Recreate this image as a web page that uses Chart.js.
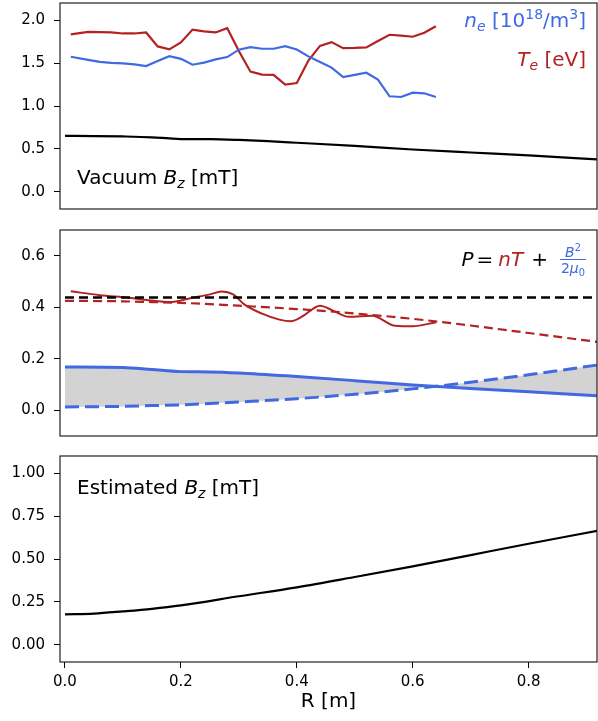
<!DOCTYPE html>
<html lang="en">
<head>
<meta charset="UTF-8" />
<title>Radial profiles</title>
<script src="https://cdn.jsdelivr.net/npm/chart.js"></script>
<style>
  body { margin: 0; background: #fff; }
  #wrap { position: relative; width: 598px; height: 721px; }
  #wrap canvas { position: absolute; left: 0; }
</style>
</head>
<body>
<div id="wrap">
  <canvas id="vacuumChart" width="598" height="212" style="top:0px"></canvas>
  <canvas id="pressureChart" width="598" height="220" style="top:220px"></canvas>
  <canvas id="fieldChart" width="598" height="281" style="top:440px"></canvas>
</div>

<script>
// --- measured profiles (R in m) ---
const rProfile = [0.01, 0.04, 0.06, 0.08, 0.10, 0.12, 0.14, 0.16, 0.18, 0.20, 0.22, 0.24, 0.26, 0.28, 0.30, 0.32,
                  0.34, 0.36, 0.38, 0.40, 0.42, 0.44, 0.46, 0.48, 0.50, 0.52, 0.54, 0.56, 0.58, 0.60, 0.62, 0.64];
const neProfile = [1.574, 1.537, 1.514, 1.502, 1.497, 1.485, 1.465, 1.523, 1.581, 1.549, 1.481, 1.505, 1.543, 1.570, 1.656, 1.686,
                   1.667, 1.667, 1.698, 1.659, 1.578, 1.514, 1.447, 1.337, 1.363, 1.388, 1.307, 1.113, 1.105, 1.156, 1.148, 1.105];
const teProfile = [1.834, 1.863, 1.860, 1.857, 1.845, 1.845, 1.857, 1.694, 1.660, 1.740, 1.890, 1.870, 1.857, 1.907, 1.640, 1.400,
                   1.365, 1.363, 1.249, 1.267, 1.530, 1.700, 1.744, 1.674, 1.677, 1.683, 1.758, 1.830, 1.820, 1.807, 1.853, 1.930];

// vacuum field
const rVacuum = [0, 0.05, 0.10, 0.15, 0.18, 0.20, 0.25, 0.30, 0.35, 0.40, 0.50, 0.60, 0.70, 0.80, 0.92];
const bzVacuum = [0.651, 0.650, 0.645, 0.635, 0.622, 0.615, 0.614, 0.605, 0.590, 0.572, 0.535, 0.493, 0.458, 0.425, 0.377];

// pressure balance
const rKinetic = [0.01, 0.06, 0.11, 0.15, 0.18, 0.22, 0.25, 0.27, 0.29, 0.31, 0.34, 0.37, 0.39, 0.41, 0.44, 0.46, 0.49, 0.53, 0.57, 0.60, 0.64];
const pKinetic = [0.462, 0.447, 0.437, 0.426, 0.420, 0.437, 0.450, 0.461, 0.450, 0.410, 0.375, 0.352, 0.346, 0.365, 0.406, 0.390, 0.363, 0.367, 0.328, 0.326, 0.342];
const rPressure = [0, 0.10, 0.15, 0.20, 0.25, 0.30, 0.40, 0.50, 0.60, 0.70, 0.80, 0.92];
const pKineticFit = [0.425, 0.423, 0.420, 0.417, 0.412, 0.406, 0.393, 0.376, 0.355, 0.329, 0.300, 0.265];
const pMagVacuum = [0.168, 0.166, 0.158, 0.150, 0.149, 0.145, 0.131, 0.115, 0.098, 0.084, 0.072, 0.056];
const pMagEstimated = [0.013, 0.015, 0.018, 0.021, 0.026, 0.032, 0.045, 0.062, 0.083, 0.109, 0.138, 0.176];
const rTotal = [0, 0.92];
const pTotal = [0.438, 0.438];

// estimated field
const rEstimated = [0, 0.05, 0.10, 0.15, 0.20, 0.30, 0.40, 0.50, 0.60, 0.70, 0.80, 0.92];
const bzEstimated = [0.178, 0.182, 0.195, 0.210, 0.230, 0.283, 0.335, 0.395, 0.457, 0.523, 0.589, 0.665];

// tick labels
const xTicks = [0, 0.2, 0.4, 0.6, 0.8];
const yTicksVacuum = [0, 0.5, 1.0, 1.5, 2.0];
const yTicksPressure = [0, 0.2, 0.4, 0.6];
const yTicksField = [0, 0.25, 0.5, 0.75, 1.0];

const FONT = '"DejaVu Sans", sans-serif';
const BLUE = '#4169e1';
const RED = '#b22222';

const pts = (xs, ys) => xs.map((x, i) => ({ x, y: ys[i] }));

function xScale(show) {
  return {
    type: 'linear', min: -0.0086, max: 0.918, display: show,
    afterBuildTicks: s => { s.ticks = xTicks.map(v => ({ value: v })); },
    afterFit: s => { if (show) s.height = 59; s.paddingLeft = 0; s.paddingRight = 0; },
    grid: { drawOnChartArea: false, drawTicks: true, tickLength: 6, color: '#000', tickWidth: 1 },
    border: { display: false },
    ticks: { color: '#000', font: { family: FONT, size: 15 }, padding: 5, maxRotation: 0, autoSkip: false,
             callback: v => v.toFixed(1) },
    title: { display: true, text: 'R [m]', color: '#000', font: { family: FONT, size: 20 }, padding: { top: 0, bottom: 7 } }
  };
}

function yScale(min, max, ticks, digits) {
  return {
    min, max,
    afterBuildTicks: s => { s.ticks = ticks.map(v => ({ value: v })); },
    afterFit: s => { s.width = 60; s.paddingTop = 0; s.paddingBottom = 0; },
    grid: { drawOnChartArea: false, drawTicks: true, tickLength: 6, color: '#000', tickWidth: 1 },
    border: { display: false },
    ticks: { color: '#000', font: { family: FONT, size: 15 }, padding: 9, autoSkip: false,
             callback: v => v.toFixed(digits) }
  };
}

// box around each panel
const frame = {
  id: 'frame',
  afterDatasetsDraw(chart) {
    const { ctx, chartArea: a } = chart;
    ctx.save();
    ctx.strokeStyle = '#222';
    ctx.lineWidth = 1.2;
    ctx.strokeRect(a.left, a.top, a.right - a.left, a.bottom - a.top);
    ctx.restore();
  }
};

// text made of runs: {t, it, small, dy, color, pad}
function measureRuns(ctx, runs, size) {
  return runs.map(r => {
    const fs = r.small ? size * 0.7 : size;
    const font = (r.it ? 'italic ' : '') + fs + 'px ' + FONT;
    ctx.font = font;
    return Object.assign({}, r, { font, w: ctx.measureText(r.t).width + (r.pad || 0) });
  });
}

function drawRuns(ctx, runs, x, y, align, size) {
  const pieces = measureRuns(ctx, runs, size || 20);
  const total = pieces.reduce((s, p) => s + p.w, 0);
  let cx = align === 'right' ? x - total : x;
  ctx.textAlign = 'left';
  ctx.textBaseline = 'alphabetic';
  for (const p of pieces) {
    ctx.font = p.font;
    ctx.fillStyle = p.color || '#000';
    ctx.fillText(p.t, cx, y + (p.dy || 0));
    cx += p.w;
  }
  return total;
}

function notes(id, draw) {
  return { id, afterDraw(chart) { const { ctx, chartArea } = chart; ctx.save(); draw(ctx, chartArea); ctx.restore(); } };
}

const baseOptions = (x, y) => ({
  responsive: false,
  animation: false,
  devicePixelRatio: 1,
  layout: { padding: 0 },
  scales: { x, y },
  plugins: { legend: { display: false }, tooltip: { enabled: false }, filler: { drawTime: 'beforeDatasetsDraw' } },
  elements: { point: { radius: 0 }, line: { tension: 0 } }
});

// --- top: vacuum field + profiles ---
const vacuumOpts = baseOptions(xScale(false), yScale(-0.2, 2.2, yTicksVacuum, 1));
vacuumOpts.layout.padding = { top: 3, bottom: 3, left: 0, right: 1 };
new Chart(document.getElementById('vacuumChart'), {
  type: 'line',
  data: {
    datasets: [
      { data: pts(rProfile, neProfile), borderColor: BLUE, borderWidth: 2.2 },
      { data: pts(rProfile, teProfile), borderColor: RED, borderWidth: 2.2 },
      { data: pts(rVacuum, bzVacuum), borderColor: '#000', borderWidth: 2.2, cubicInterpolationMode: 'monotone' }
    ]
  },
  options: vacuumOpts,
  plugins: [frame, notes('vacuumNotes', (ctx, a) => {
    drawRuns(ctx, [
      { t: 'n', it: true, color: BLUE }, { t: 'e', it: true, small: true, dy: 4, color: BLUE },
      { t: ' [10', color: BLUE }, { t: '18', small: true, dy: -8, color: BLUE },
      { t: '/m', color: BLUE }, { t: '3', small: true, dy: -8, color: BLUE }, { t: ']', color: BLUE }
    ], 586, 26.5, 'right');
    drawRuns(ctx, [
      { t: 'T', it: true, color: RED }, { t: 'e', it: true, small: true, dy: 4, color: RED },
      { t: ' [eV]', color: RED }
    ], 586, 65.5, 'right');
    drawRuns(ctx, [
      { t: 'Vacuum ' }, { t: 'B', it: true }, { t: 'z', it: true, small: true, dy: 4 }, { t: ' [mT]' }
    ], a.left + 17, 184, 'left');
  })]
});

// --- middle: pressure balance ---
const pressureOpts = baseOptions(xScale(false), yScale(-0.1, 0.7, yTicksPressure, 1));
pressureOpts.layout.padding = { top: 10, bottom: 4, left: 0, right: 1 };
new Chart(document.getElementById('pressureChart'), {
  type: 'line',
  data: {
    datasets: [
      { data: pts(rTotal, pTotal), borderColor: '#000', borderWidth: 2.4, borderDash: [9, 5] },
      { data: pts(rKinetic, pKinetic), borderColor: RED, borderWidth: 2, cubicInterpolationMode: 'monotone' },
      { data: pts(rPressure, pKineticFit), borderColor: RED, borderWidth: 2.2, borderDash: [9, 5], cubicInterpolationMode: 'monotone' },
      { data: pts(rPressure, pMagVacuum), borderColor: BLUE, borderWidth: 3, cubicInterpolationMode: 'monotone',
        fill: '+1', backgroundColor: '#d3d3d3' },
      { data: pts(rPressure, pMagEstimated), borderColor: BLUE, borderWidth: 3, borderDash: [14, 6], cubicInterpolationMode: 'monotone' }
    ]
  },
  options: pressureOpts,
  plugins: [frame, notes('pressureNotes', (ctx, a) => {
    // fraction B^2 / 2mu0 at the right edge of the label
    const right = 586, bar = 40 - 0.5, fs = 14;
    const num = [{ t: 'B', it: true, color: BLUE }, { t: '2', small: true, dy: -6, color: BLUE }];
    const den = [{ t: '2', color: BLUE }, { t: '\u03bc', it: true, color: BLUE }, { t: '0', small: true, dy: 3, color: BLUE }];
    const wn = measureRuns(ctx, num, fs).reduce((s, p) => s + p.w, 0);
    const wd = measureRuns(ctx, den, fs).reduce((s, p) => s + p.w, 0);
    const wf = Math.max(wn, wd) + 2;
    const left = right - wf;
    ctx.strokeStyle = BLUE;
    ctx.lineWidth = 1;
    ctx.beginPath(); ctx.moveTo(left, bar); ctx.lineTo(right, bar); ctx.stroke();
    drawRuns(ctx, num, left + (wf - wn) / 2, bar - 3, 'left', fs);
    drawRuns(ctx, den, left + (wf - wd) / 2, bar + 13, 'left', fs);
    drawRuns(ctx, [
      { t: 'P', it: true, pad: 3 }, { t: '=', pad: 5 }, { t: 'nT', it: true, color: RED, pad: 8 }, { t: '+' }
    ], left - 12, 45.5, 'right');
  })]
});

// --- bottom: estimated field ---
const fieldOpts = baseOptions(xScale(true), yScale(-0.1, 1.1, yTicksField, 2));
fieldOpts.layout.padding = { top: 16, bottom: 0, left: 0, right: 1 };
new Chart(document.getElementById('fieldChart'), {
  type: 'line',
  data: {
    datasets: [
      { data: pts(rEstimated, bzEstimated), borderColor: '#000', borderWidth: 2.2, cubicInterpolationMode: 'monotone' }
    ]
  },
  options: fieldOpts,
  plugins: [frame, notes('fieldNotes', (ctx, a) => {
    drawRuns(ctx, [
      { t: 'Estimated ' }, { t: 'B', it: true }, { t: 'z', it: true, small: true, dy: 4 }, { t: ' [mT]' }
    ], a.left + 17, 53.5, 'left');
  })]
});
</script>
</body>
</html>
